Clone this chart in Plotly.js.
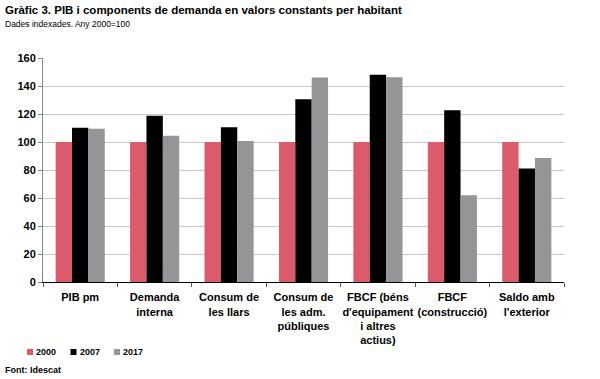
<!DOCTYPE html>
<html>
<head>
<meta charset="utf-8">
<script src="https://cdn.plot.ly/plotly-3.0.1.min.js"></script>
<style>body{margin:0;padding:0;background:#fff}#chart{width:600px;height:379px}</style>
</head>
<body>
<div id="chart"></div>
<script>
const categories = ["PIB pm", "Demanda<br>interna", "Consum de<br>les llars", "Consum de<br>les adm.<br>públiques", "FBCF (béns<br>d'equipament<br>i altres<br>actius)", "FBCF<br>(construcció)", "Saldo amb<br>l'exterior"];
const seriesNames = ["2000", "2007", "2017"];
const values2000 = [100, 100, 100, 100, 100, 100, 100];
const values2007 = [110.2, 118.8, 110.5, 130.5, 148.0, 122.6, 81.0];
const values2017 = [109.5, 104.5, 100.7, 146.0, 146.2, 62.0, 88.6];
const yTicks = [0, 20, 40, 60, 80, 100, 120, 140, 160];

const colors = ["#db5b6c", "#000000", "#939598"];
const allValues = [values2000, values2007, values2017];
const traces = allValues.map((v, i) => ({
  type: "bar",
  name: seriesNames[i],
  x: categories,
  y: v,
  marker: {color: colors[i], line: {width: 0}},
  hoverinfo: "y",
  showlegend: false
}));

const FONT = "Liberation Sans, Arial, sans-serif";
const plotL = 43, plotW = 521, plotB = 282, plotH = 224;
const px2x = p => (p - plotL) / plotW;
const py2y = p => (plotB - p) / plotH;

const shapes = [];
const annotations = [
  {text: "<b>Gràfic 3. PIB i components de demanda en valors constants per habitant</b>", xref: "paper", yref: "paper",
    x: px2x(3), xanchor: "left", y: py2y(10), yanchor: "middle", showarrow: false,
    font: {size: 11.5, family: FONT, color: "#000"}},
  {text: "Dades indexades. Any 2000=100", xref: "paper", yref: "paper",
    x: px2x(3), xanchor: "left", y: py2y(24), yanchor: "middle", showarrow: false,
    font: {size: 8.5, family: FONT, color: "#000"}},
  {text: "<b>Font: Idescat</b>", xref: "paper", yref: "paper",
    x: px2x(3), xanchor: "left", y: py2y(370), yanchor: "middle", showarrow: false,
    font: {size: 9, family: FONT, color: "#000"}}
];
seriesNames.forEach((n, i) => {
  const sx = 27 + i * 43.5;
  shapes.push({type: "rect", xref: "paper", yref: "paper",
    x0: px2x(sx), x1: px2x(sx + 6), y0: py2y(355), y1: py2y(349),
    fillcolor: colors[i], line: {width: 0}});
  annotations.push({text: "<b>" + n + "</b>", xref: "paper", yref: "paper",
    x: px2x(sx + 7), xanchor: "left", y: py2y(352), yanchor: "middle", showarrow: false,
    font: {size: 9, family: FONT, color: "#000"}});
});

const layout = {
  width: 600, height: 379,
  margin: {l: 43, r: 36, t: 58, b: 97},
  paper_bgcolor: "#fff", plot_bgcolor: "#fff",
  font: {family: FONT, color: "#000"},
  barmode: "group",
  bargap: 0.34,
  bargroupgap: 0,
  showlegend: false,
  xaxis: {
    type: "category",
    showline: true, linecolor: "#000", linewidth: 1,
    ticks: "outside", tickson: "boundaries", ticklen: 4, tickcolor: "#555",
    tickangle: 0, ticklabelstandoff: 5,
    tickfont: {size: 11, family: FONT, weight: "bold"},
    showgrid: false, automargin: false
  },
  yaxis: {
    range: [0, 160], tickvals: yTicks, ticktext: yTicks.map(String),
    showline: true, linecolor: "#888", linewidth: 1,
    ticks: "outside", ticklen: 4, tickcolor: "#888",
    showgrid: true, gridcolor: "#c8c8c8", gridwidth: 1,
    zeroline: false,
    tickfont: {size: 11, family: FONT, weight: "bold"},
    automargin: false
  },
  shapes: shapes,
  annotations: annotations
};

Plotly.newPlot("chart", traces, layout, {displayModeBar: false, staticPlot: true});
</script>
</body>
</html>
